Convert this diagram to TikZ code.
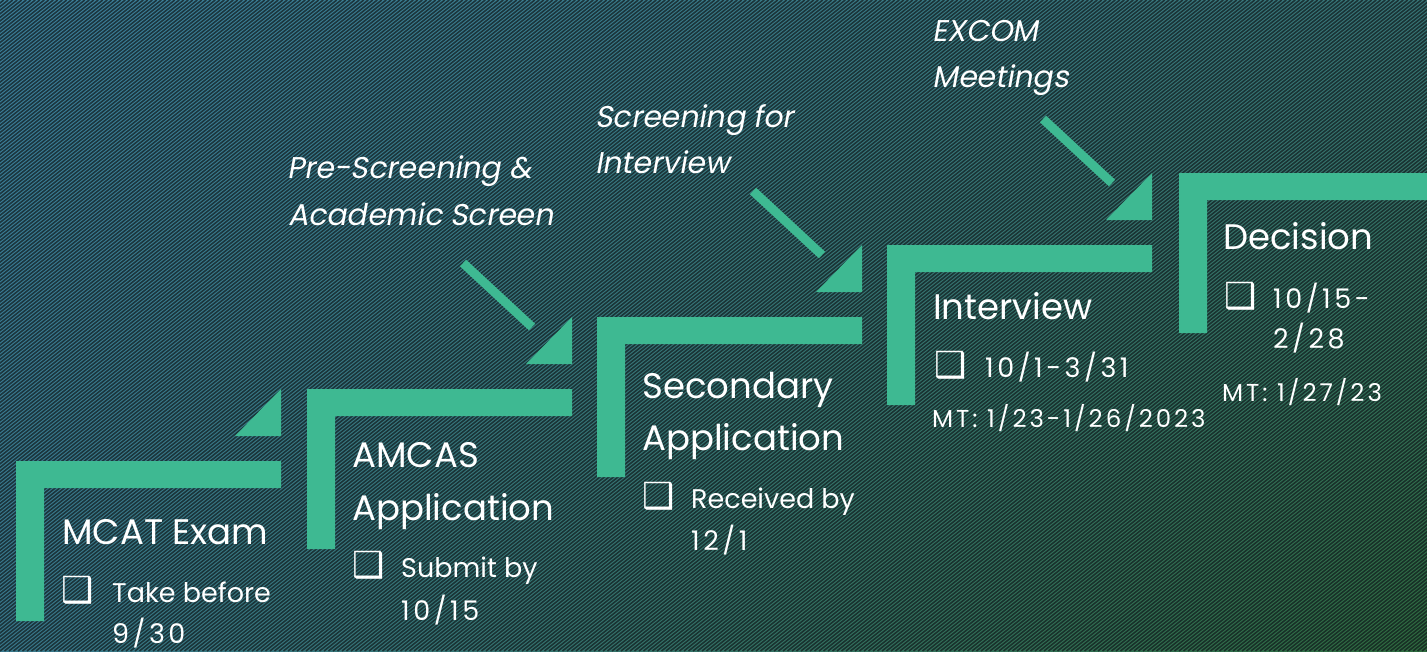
\documentclass[tikz,border=0pt]{standalone}
\usepackage{fontspec}
\usetikzlibrary{shadings}
\setmainfont{Poppins}
\newfontfamily\itfont[FakeSlant=0.18]{Poppins}
\newfontfamily\numfont[LetterSpace=13]{Poppins}
\newfontfamily\mtfont[LetterSpace=12]{Poppins}
\newfontfamily\boxfont{DejaVu Sans}
\definecolor{stepgreen}{RGB}{62,185,146}
\definecolor{bgTL}{RGB}{60,128,156}
\definecolor{bgTR}{RGB}{56,118,120}
\definecolor{bgBL}{RGB}{58,122,142}
\definecolor{bgBR}{RGB}{48,108,64}
\definecolor{stripe}{RGB}{14,24,26}
\tikzset{
  stepfill/.style={fill=stepgreen},
  pointer/.style={draw=stepgreen, line width=9pt},
  title/.style={anchor=base west, inner sep=0pt, text=white, font=\fontsize{35.5}{40}\selectfont},
  body/.style={anchor=base west, inner sep=0pt, text=white, font=\fontsize{27}{32}\selectfont},
  numbody/.style={anchor=base west, inner sep=0pt, text=white, font=\numfont\fontsize{27}{32}\selectfont},
  small/.style={anchor=base west, inner sep=0pt, text=white, font=\mtfont\fontsize{24.5}{28}\selectfont},
  itlabel/.style={anchor=base west, inner sep=0pt, text=white, font=\itfont\fontsize{30}{34}\selectfont},
  chk/.style={anchor=base west, inner sep=0pt, text=white, font=\boxfont\fontsize{36}{40}\selectfont},
}
\begin{document}
\begin{tikzpicture}[x=1pt,y=-1pt]
\useasboundingbox (0,0) rectangle (1427,651);
\begin{scope}
\clip (0,0) rectangle (1427,651);
\shade[upper left=bgTL, upper right=bgTR, lower left=bgBL, lower right=bgBR] (0,0) rectangle (1427,651);
\foreach \i in {-182,...,318} {
  \draw[stripe, line width=1.6pt, opacity=0.7] (\i*4.5,651) -- ++(813.75,-651);
}
% steps
\foreach \L/\T in {16/461,307/389,597/317,887/245,1179/173} {
  \fill[stepfill] (\L,\T) -- ++(265,0) -- ++(0,27) -- ++(-237,0) -- ++(0,133) -- ++(-28,0) -- cycle;
}
\foreach \L/\T in {16/461,307/389,597/317,887/245} {
  \fill[stepfill] (\L+219,\T-25) -- (\L+265,\T-25) -- (\L+265,\T-72) -- cycle;
}
\foreach \L/\T in {307/389,597/317,887/245} {
  \draw[pointer] (\L+156,\T-126) -- (\L+225,\T-62);
}
\end{scope}
% MCAT
\node[title] (t1) at (62,544) {MCAT Exam};
\node[chk] (c1) at (61,602) {❑};
\node[body] (b1a) at (112,602) {Take before};
\node[numbody] (b1b) at (112,643) {9/30};
% AMCAS
\node[title] (t2a) at (352,467) {AMCAS};
\node[title] (t2b) at (352,520) {Application};
\node[chk] (c2) at (352,577) {❑};
\node[body] (b2a) at (401,577) {Submit by};
\node[numbody] (b2b) at (401,620) {10/15};
% Secondary
\node[title] (t3a) at (642,398) {Secondary};
\node[title] (t3b) at (642,450) {Application};
\node[chk] (c3) at (642,508) {❑};
\node[body] (b3a) at (691,508) {Received by};
\node[numbody] (b3b) at (691,550) {12/1};
% Interview
\node[title] (t4) at (933,319) {Interview};
\node[chk] (c4) at (934,377) {❑};
\node[numbody] (b4a) at (985,377) {10/1-3/31};
\node[small] (m4) at (932,427) {MT: 1/23-1/26/2023};
% Decision
\node[title] (t5) at (1223,249) {Decision};
\node[chk] (c5) at (1224,308) {❑};
\node[numbody] (b5a) at (1273,308) {10/15-};
\node[numbody] (b5b) at (1273,348) {2/28};
\node[small] (m5) at (1222,401) {MT: 1/27/23};
% italic labels
\node[itlabel] (l1a) at (287,178) {Pre-Screening \&};
\node[itlabel] (l1b) at (288,225) {Academic Screen};
\node[itlabel] (l2a) at (595,127) {Screening for};
\node[itlabel] (l2b) at (595,173) {Interview};
\node[itlabel] (l3a) at (932,41) {EXCOM};
\node[itlabel] (l3b) at (932,87) {Meetings};
\end{tikzpicture}
\end{document}
